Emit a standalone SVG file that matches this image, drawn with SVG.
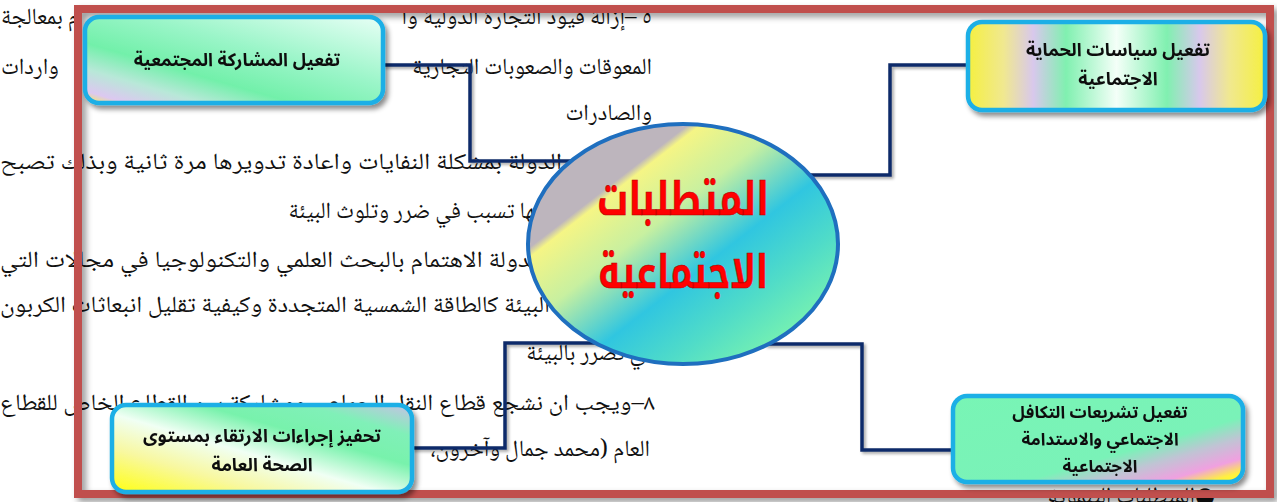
<svg xmlns="http://www.w3.org/2000/svg" width="1277" height="502" viewBox="0 0 1277 502">
<style>
.bg{font-family:"Noto Naskh Arabic","Noto Serif Arabic","DejaVu Sans",serif;font-size:23px;fill:#111;direction:rtl}
.nt{font-family:"Noto Sans Arabic","DejaVu Sans",sans-serif;font-size:18px;font-weight:bold;fill:#111;text-anchor:middle;direction:rtl}
.n3{font-size:17px}
.tt{font-family:"Noto Kufi Arabic","DejaVu Sans",sans-serif;font-size:46px;font-weight:bold;fill:#FF0000;stroke:#B00000;stroke-width:0.6;text-anchor:middle;direction:rtl}
.box{stroke:#1DAFE6;stroke-width:4.5}
.con{fill:none;stroke:#0E2C6A;stroke-width:3.5}
</style>
<defs>
<filter id="sh" x="-10%" y="-10%" width="125%" height="130%"><feDropShadow dx="3" dy="4" stdDeviation="2.5" flood-color="#000" flood-opacity="0.45"/></filter>
<filter id="shc" x="-5%" y="-5%" width="115%" height="115%"><feDropShadow dx="2" dy="2" stdDeviation="1.5" flood-color="#000" flood-opacity="0.35"/></filter>
<filter id="shf" x="-2%" y="-2%" width="104%" height="104%"><feDropShadow dx="4" dy="4" stdDeviation="3" flood-color="#000" flood-opacity="0.4"/></filter>
<linearGradient id="g1" x1="0" y1="1" x2="1" y2="0"><stop offset="0" stop-color="#F6F050"/><stop offset="0.07" stop-color="#DCC8F0"/><stop offset="0.2" stop-color="#B8E8D8"/><stop offset="0.35" stop-color="#72F0AA"/><stop offset="0.6" stop-color="#9AF5C8"/><stop offset="1" stop-color="#E8FFF6"/></linearGradient>
<linearGradient id="g2" x1="0" y1="0" x2="1" y2="0"><stop offset="0" stop-color="#F5F040"/><stop offset="0.12" stop-color="#F0E890"/><stop offset="0.22" stop-color="#D8C8EC"/><stop offset="0.33" stop-color="#80F0B0"/><stop offset="0.5" stop-color="#F4FFF8"/><stop offset="0.67" stop-color="#80F0B0"/><stop offset="0.78" stop-color="#D8C8EC"/><stop offset="0.88" stop-color="#F0E890"/><stop offset="1" stop-color="#F5F040"/></linearGradient>
<linearGradient id="g3" x1="0" y1="0" x2="1" y2="1"><stop offset="0" stop-color="#78F5B5"/><stop offset="0.62" stop-color="#7AF2B8"/><stop offset="0.74" stop-color="#C0C4D4"/><stop offset="0.86" stop-color="#F0A0E0"/><stop offset="0.94" stop-color="#FFF040"/><stop offset="1" stop-color="#FFFF20"/></linearGradient>
<linearGradient id="g4" x1="1" y1="0" x2="0" y2="1"><stop offset="0" stop-color="#C8C0E6"/><stop offset="0.18" stop-color="#80F0B8"/><stop offset="0.35" stop-color="#78F2AC"/><stop offset="0.55" stop-color="#F0FFF4"/><stop offset="0.75" stop-color="#F8F8A0"/><stop offset="1" stop-color="#FFFF10"/></linearGradient>
<linearGradient id="gE" gradientUnits="userSpaceOnUse" x1="560" y1="90" x2="800" y2="400"><stop offset="0" stop-color="#BDB5BD"/><stop offset="0.27" stop-color="#BDB5BD"/><stop offset="0.29" stop-color="#F5F585"/><stop offset="0.42" stop-color="#C8F0A0"/><stop offset="0.58" stop-color="#30C6E0"/><stop offset="0.72" stop-color="#50DCC8"/><stop offset="0.86" stop-color="#78F2B0"/><stop offset="1" stop-color="#88F8B0"/></linearGradient>
</defs>

<g id="background-text">
<text class="bg" x="652" y="24" text-anchor="start">٥ –إزالة قيود التجارة الدولية وا</text>
<text class="bg" x="1" y="24" text-anchor="end">م بمعالجة</text>
<text class="bg" x="652" y="74" text-anchor="start">المعوقات والصعوبات التجارية</text>
<text class="bg" x="1" y="74" text-anchor="end">واردات</text>
<text class="bg" x="652" y="120" text-anchor="start">والصادرات</text>
<text class="bg" x="562" y="169" text-anchor="start" textLength="562" lengthAdjust="spacingAndGlyphs">الدولة بمشكلة النفايات واعادة تدويرها مرة ثانية وبذلك تصبح</text>
<text class="bg" x="546" y="218" text-anchor="start">انها تسبب في ضرر وتلوث البيئة</text>
<text class="bg" x="542" y="267" text-anchor="start" textLength="542" lengthAdjust="spacingAndGlyphs">الدولة الاهتمام بالبحث العلمي والتكنولوجيا في مجالات التي</text>
<text class="bg" x="550" y="312" text-anchor="start" textLength="550" lengthAdjust="spacingAndGlyphs">البيئة كالطاقة الشمسية المتجددة وكيفية تقليل انبعاثات الكربون</text>
<text class="bg" x="655" y="360" text-anchor="start">في تضرر بالبيئة</text>
<text class="bg" x="655" y="410" text-anchor="start" textLength="655" lengthAdjust="spacingAndGlyphs">٨–ويجب ان نشجع قطاع النقل الجماعي ومشاركة بين القطاع الخاص للقطاع</text>
<text class="bg" x="650" y="456" text-anchor="start">العام (محمد جمال وآخرون،</text>
<text class="bg" x="1215" y="503" text-anchor="start">●المتطلبات التنموية</text>
</g>

<g id="frame">
<rect x="78" y="9" width="1192" height="485" fill="none" stroke="#C0504D" stroke-width="8" filter="url(#shf)"/>
</g>

<g id="connectors" filter="url(#shc)">
<path class="con" d="M383,65 H470 V161 H575"/>
<path class="con" d="M805,175 H890 V65 H968"/>
<path class="con" d="M765,344 H862 V450 H953"/>
<path class="con" d="M600,343 H505 V448 H412"/>
</g>

<g id="center">
<ellipse cx="683" cy="244" rx="155" ry="120" fill="url(#gE)" stroke="#1F6FBF" stroke-width="4"/>
<text class="tt" x="683" y="215" textLength="172" lengthAdjust="spacingAndGlyphs">المتطلبات</text>
<text class="tt" x="683" y="288" textLength="170" lengthAdjust="spacingAndGlyphs">الاجتماعية</text>
</g>

<g id="node-community" filter="url(#sh)">
<rect class="box" x="85" y="17" width="298" height="86" rx="14" fill="url(#g1)"/>
<text class="nt" x="237" y="66">تفعيل المشاركة المجتمعية</text>
</g>

<g id="node-protection" filter="url(#sh)">
<rect class="box" x="968" y="22" width="297" height="88" rx="14" fill="url(#g2)"/>
<text class="nt" x="1118" y="56">تفعيل سياسات الحماية</text>
<text class="nt" x="1118" y="85">الاجتماعية</text>
</g>

<g id="node-legislation" filter="url(#sh)">
<rect class="box" x="953" y="396" width="290" height="86" rx="14" fill="url(#g3)"/>
<text class="nt n3" x="1100" y="418">تفعيل تشريعات التكافل</text>
<text class="nt n3" x="1100" y="445">الاجتماعي والاستدامة</text>
<text class="nt n3" x="1100" y="472">الاجتماعية</text>
</g>

<g id="node-health" filter="url(#sh)">
<rect class="box" x="112" y="405" width="300" height="87" rx="14" fill="url(#g4)"/>
<text class="nt" x="262" y="442">تحفيز إجراءات الارتقاء بمستوى</text>
<text class="nt" x="262" y="471">الصحة العامة</text>
</g>
</svg>
